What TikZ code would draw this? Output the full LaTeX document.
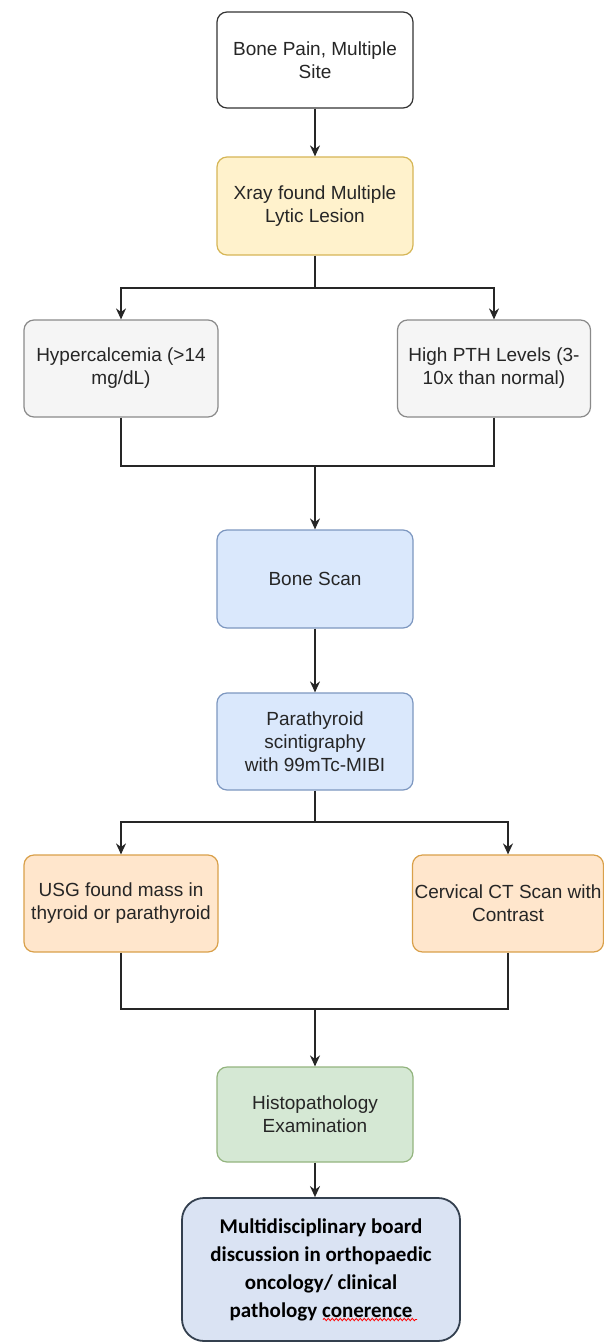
\documentclass[tikz,border=0pt]{standalone}
\usepackage{fontspec}
\setmainfont{Liberation Sans}
\newfontfamily\boardfont{Carlito}
\usepackage{xcolor}
\usepackage{tikz}
\usetikzlibrary{positioning,arrows.meta,calc,decorations.pathmorphing}

\definecolor{yelfill}{HTML}{FFF2CC}
\definecolor{yeldraw}{HTML}{D6B656}
\definecolor{greyfill}{HTML}{F5F5F5}
\definecolor{greydraw}{HTML}{8A8A8A}
\definecolor{bluefill}{HTML}{DAE8FC}
\definecolor{bluedraw}{HTML}{7D97C0}
\definecolor{orgfill}{HTML}{FFE6CC}
\definecolor{orgdraw}{HTML}{D9A04A}
\definecolor{grnfill}{HTML}{D5E8D4}
\definecolor{grndraw}{HTML}{93B47E}
\definecolor{boardfill}{HTML}{DAE3F3}
\definecolor{boarddraw}{HTML}{34404F}
\definecolor{txt}{HTML}{262626}

\begin{document}
\begin{tikzpicture}[x=1pt, y=-1pt,
  box/.style={rectangle, rounded corners=10pt, line width=1.2pt, align=center,
    text=txt, font=\fontsize{19}{23}\selectfont, inner sep=0pt},
  link/.style={line width=1.5pt, draw=black!85},
  arr/.style={link, -{Stealth[length=11pt,width=10pt]}}]
  % canvas: 604 x 1343 px, y grows downwards
  \useasboundingbox (0,0) rectangle (604,1343);
  % row 1 and 2
  \node[box, draw=black!80, fill=white, minimum width=196, minimum height=96]
    (pain) at (315,60) {Bone Pain, Multiple\\Site};
  \node[box, draw=yeldraw, fill=yelfill, minimum width=196, minimum height=98]
    (xray) at (315,206) {Xray found Multiple\\Lytic Lesion};
  % lab findings
  \node[box, draw=greydraw, fill=greyfill, minimum width=194, minimum height=97]
    (hyper) at (121,368.5) {Hypercalcemia (>14\\mg/dL)};
  \node[box, draw=greydraw, fill=greyfill, minimum width=193, minimum height=97]
    (pth) at (494,368.5) {High PTH Levels (3-\\10x than normal)};
  % imaging
  \node[box, draw=bluedraw, fill=bluefill, minimum width=196, minimum height=98]
    (bone) at (315,579) {Bone Scan};
  \node[box, draw=bluedraw, fill=bluefill, minimum width=196, minimum height=97]
    (para) at (315,741.5) {Parathyroid\\scintigraphy\\with 99mTc-MIBI};
  \node[box, draw=orgdraw, fill=orgfill, minimum width=194, minimum height=97]
    (usg) at (121,903.5) {USG found mass in\\thyroid or parathyroid};
  \node[box, draw=orgdraw, fill=orgfill, minimum width=191, minimum height=97]
    (ct) at (508,903.5) {Cervical CT Scan with\\Contrast};
  % final steps
  \node[box, draw=grndraw, fill=grnfill, minimum width=196, minimum height=95]
    (histo) at (315,1114.5) {Histopathology\\Examination};
  \node[box, rounded corners=22pt, line width=1.8pt, draw=boarddraw, fill=boardfill,
    minimum width=278, minimum height=143, text=black,
    font=\boardfont\bfseries\fontsize{21}{28}\selectfont]
    (board) at (321,1269.5)
    {Multidisciplinary board\\discussion in orthopaedic\\oncology/ clinical\\pathology conerence};
  % spell-check wave under the last word
  \draw[red, line width=0.8pt, decorate, decoration={snake, amplitude=1.2pt, segment length=4pt}]
    ($(board.center)+(2,50)$) -- ($(board.center)+(96,50)$);
  % branch and merge points
  \coordinate (split1) at (315,288);
  \coordinate (join1) at (315,466);
  \coordinate (split2) at (315,822);
  \coordinate (join2) at (315,1009);
  % connectors
  \draw[arr] (pain) -- (xray);
  \draw[link] (xray) -- (split1);
  \draw[arr] (split1) -| (hyper);
  \draw[arr] (split1) -| (pth);
  \draw[link] (hyper) |- (join1);
  \draw[link] (pth) |- (join1);
  \draw[arr] (join1) -- (bone);
  \draw[arr] (bone) -- (para);
  \draw[link] (para) -- (split2);
  \draw[arr] (split2) -| (usg);
  \draw[arr] (split2) -| (ct);
  \draw[link] (usg) |- (join2);
  \draw[link] (ct) |- (join2);
  \draw[arr] (join2) -- (histo);
  \draw[arr] (histo.south) -- (histo.south |- board.north);
\end{tikzpicture}
\end{document}
